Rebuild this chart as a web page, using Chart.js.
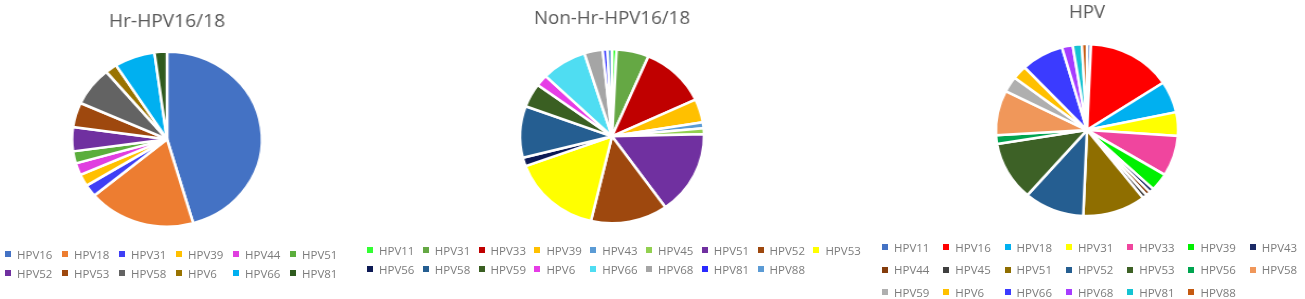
<!DOCTYPE html>
<html>
<head>
<meta charset="utf-8">
<script src="https://cdn.jsdelivr.net/npm/chart.js@4.4.1/dist/chart.umd.min.js"></script>
<style>
  html, body { margin: 0; padding: 0; background: #ffffff; }
  body { width: 1305px; height: 299px; position: relative; overflow: hidden; font-family: "Open Sans", sans-serif; }
  canvas { position: absolute; top: 0; transform-origin: 50% 0; }
  .legend { position: absolute; display: grid; }
  .item { display: flex; align-items: center; white-space: nowrap; font-size: 11.5px; color: #7c7c7c; }
  .box { width: 6px; height: 6px; margin-right: 6px; flex: none; }
</style>
</head>
<body>
<canvas id="c1" width="200" height="246"></canvas>
<canvas id="c2" width="200" height="243"></canvas>
<canvas id="c3" width="200" height="237"></canvas>
<div id="l1" class="legend"></div>
<div id="l2" class="legend"></div>
<div id="l3" class="legend"></div>
<script>
// ---- Data ----
const title1 = 'Hr-HPV16/18';
const labels1 = ['HPV16','HPV18','HPV31','HPV39','HPV44','HPV51','HPV52','HPV53','HPV58','HPV6','HPV66','HPV81'];
const values1 = [45.0, 18.1, 2.2, 2.2, 2.2, 2.2, 4.4, 4.5, 7.1, 2.0, 6.8, 2.1];
const colors1 = ['#4472C4','#ED7D31','#3F3FF5','#FFC000','#E03FE0','#5BAE3C','#7030A0','#9E480E','#636363','#997300','#00B0F0','#2F5B1E'];

const title2 = 'Non-Hr-HPV16/18';
const labels2 = ['HPV11','HPV31','HPV33','HPV39','HPV43','HPV45','HPV51','HPV52','HPV53','HPV56','HPV58','HPV59','HPV6','HPV66','HPV68','HPV81','HPV88'];
const values2 = [0.8, 5.6, 11.5, 4.3, 1.1, 1.1, 15.4, 13.4, 15.6, 1.6, 9.5, 4.4, 2.1, 7.9, 3.2, 0.8, 0.8];
const colors2 = ['#33FF33','#65A844','#C00000','#FFC000','#5B9BD5','#92D050','#7030A0','#9E480E','#FFFF00','#0D1A55','#255E91','#3A5F22','#E63CE6','#4FDDF2','#A5A5A5','#2A2AFF','#5B9BD5'];

const title3 = 'HPV';
const labels3 = ['HPV11','HPV16','HPV18','HPV31','HPV33','HPV39','HPV43','HPV44','HPV45','HPV51','HPV52','HPV53','HPV56','HPV58','HPV59','HPV6','HPV66','HPV68','HPV81','HPV88'];
const values3 = [0.7, 14.9, 5.9, 4.4, 7.6, 3.3, 0.8, 0.8, 0.8, 11.1, 10.6, 11.0, 1.6, 8.4, 2.9, 2.6, 7.5, 1.9, 1.6, 0.9];
const colors3 = ['#4472C4','#FF0000','#00B0F0','#FFFF00','#F0459E','#00F000','#1B2A66','#843C0C','#404040','#8F6E00','#255E91','#3D6126','#00A550','#F0975A','#AFAFAF','#FFC000','#3B3BFF','#A63CFF','#14C3D2','#C55A11'];

// ---- Layout (not data) ----
const layouts = [
  { canvas: 'c1', legend: 'l1', cx: 167, r: 87.5, sx: 1.085, titleTop: 11.1,
    legLeft: 5, legTop: 244.5, colW: 57, rowH: 19, cols: 6 },
  { canvas: 'c2', legend: 'l2', cx: 612, r: 87, sx: 1.058, titleTop: 8.4,
    legLeft: 367, legTop: 241, colW: 55.8, rowH: 18.8, cols: 9 },
  { canvas: 'c3', legend: 'l3', cx: 1087, r: 86, sx: 1.06, titleTop: 1.9,
    legLeft: 882, legTop: 236, colW: 61.3, rowH: 22.5, cols: 7 }
];
const sets = [
  [title1, labels1, values1, colors1],
  [title2, labels2, values2, colors2],
  [title3, labels3, values3, colors3]
];

sets.forEach(([title, labels, values, colors], i) => {
  const L = layouts[i];
  const cv = document.getElementById(L.canvas);
  cv.style.left = (L.cx - cv.width / 2) + 'px';
  cv.style.transform = 'scaleX(' + L.sx + ')';
  new Chart(cv, {
    type: 'pie',
    data: {
      labels: labels,
      datasets: [{
        data: values,
        backgroundColor: colors,
        borderColor: '#ffffff',
        borderWidth: 2.5,
        hoverOffset: 0
      }]
    },
    options: {
      responsive: false,
      animation: false,
      radius: L.r,
      layout: { padding: 0 },
      plugins: {
        legend: { display: false },
        tooltip: { enabled: false },
        title: {
          display: true,
          text: title,
          color: '#595959',
          font: { family: 'Open Sans', size: 17.7, weight: 'normal' },
          padding: { top: L.titleTop, bottom: 0 }
        }
      }
    }
  });

  const lg = document.getElementById(L.legend);
  lg.style.left = L.legLeft + 'px';
  lg.style.top = L.legTop + 'px';
  lg.style.gridTemplateColumns = 'repeat(' + L.cols + ', ' + L.colW + 'px)';
  lg.style.gridAutoRows = L.rowH + 'px';
  labels.forEach((lab, k) => {
    const it = document.createElement('div');
    it.className = 'item';
    const b = document.createElement('span');
    b.className = 'box';
    b.style.background = colors[k];
    const t = document.createElement('span');
    t.textContent = lab;
    it.appendChild(b);
    it.appendChild(t);
    lg.appendChild(it);
  });
});
</script>
</body>
</html>
